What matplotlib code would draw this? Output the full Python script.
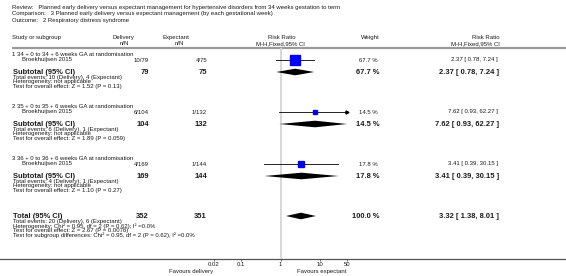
import numpy as np
import matplotlib
matplotlib.use("Agg")
import matplotlib.pyplot as plt

plt.rcParams['font.family'] = ['Liberation Sans', 'DejaVu Sans']

review = "Planned early delivery versus expectant management for hypertensive disorders from 34 weeks gestation to term"
comparison = "3 Planned early delivery versus expectant management (by each gestational week)"
outcome = "2 Respiratory distress syndrome"

groups = ["1 34 + 0 to 34 + 6 weeks GA at randomisation",
          "2 35 + 0 to 35 + 6 weeks GA at randomisation",
          "3 36 + 0 to 36 + 6 weeks GA at randomisation"]
studies = ["Broekhuijsen 2015", "Broekhuijsen 2015", "Broekhuijsen 2015"]
deliv_events = [10, 6, 4]
deliv_n = [79, 104, 169]
expect_events = [4, 1, 1]
expect_n = [75, 132, 144]
weights = [67.7, 14.5, 17.8]
rr = [2.37, 7.62, 3.41]
rr_lo = [0.78, 0.93, 0.39]
rr_hi = [7.24, 62.27, 30.15]
sub_notes = [
    ["Total events: 10 (Delivery), 4 (Expectant)", "Heterogeneity: not applicable",
     "Test for overall effect: Z = 1.52 (P = 0.13)"],
    ["Total events: 6 (Delivery), 1 (Expectant)", "Heterogeneity: not applicable",
     "Test for overall effect: Z = 1.89 (P = 0.059)"],
    ["Total events: 4 (Delivery), 1 (Expectant)", "Heterogeneity: not applicable",
     "Test for overall effect: Z = 1.10 (P = 0.27)"],
]
total_n = [352, 351]
total_rr = [3.32, 1.38, 8.01]
total_notes = ["Total events: 20 (Delivery), 6 (Expectant)",
               "Heterogeneity: Chi\u00b2 = 0.95, df = 2 (P = 0.62); I\u00b2 =0.0%",
               "Test for overall effect: Z = 2.67 (P = 0.0076)",
               "Test for subgroup differences: Chi\u00b2 = 0.95, df = 2 (P = 0.62), I\u00b2 =0.0%"]
ticks = [0.02, 0.1, 1, 10, 50]
tick_labels = ["0.02", "0.1", "1", "10", "50"]

W, H = 566, 276
fig = plt.figure(figsize=(W / 100, H / 100), dpi=100)
bg = fig.add_axes([0, 0, 1, 1])
bg.set_xlim(0, W)
bg.set_ylim(H, 0)
bg.axis('off')

fs = 4.3
fb = 5.4
col = '#1a1a1a'


def t(x, y, s, ha='left', bold=False, size=None):
    bg.text(x, y, s, ha=ha, va='center', fontsize=size or (fb if bold else fs),
            fontweight='bold' if bold else 'normal', color=col)


# header
t(12, 7.5, "Review:   " + review)
t(12, 14, "Comparison:   " + comparison)
t(12, 20.5, "Outcome:   " + outcome)
t(12, 37.5, "Study or subgroup")
t(123, 37.5, "Delivery", ha='center')
t(124, 43.5, "n/N", ha='center')
t(176, 37.5, "Expectant", ha='center')
t(179, 43.5, "n/N", ha='center')
t(282, 37.5, "Risk Ratio", ha='center')
t(280, 43.5, "M-H,Fixed,95% CI", ha='center')
t(380, 37.5, "Weight", ha='right')
t(500, 37.5, "Risk Ratio", ha='right')
t(500, 43.5, "M-H,Fixed,95% CI", ha='right')
bg.plot([12, W], [48, 48], color='#9a9a9a', lw=1.6, solid_capstyle='butt')
bg.plot([0, W], [259, 259], color='#555555', lw=0.9)

# forest axes: x from 214 to 347 px, y from 48 to 259 px
x0, x1, y0, y1 = 214, 347, 48, 259
ax = fig.add_axes([x0 / W, (H - y1) / H, (x1 - x0) / W, (y1 - y0) / H])
ax.set_xscale('log')
ax.set_xlim(0.02, 50)
ax.set_ylim(y1, y0)
ax.patch.set_alpha(0)
for s in ax.spines.values():
    s.set_visible(False)
ax.set_yticks([])
ax.set_xticks(ticks)
ax.set_xticklabels(tick_labels, fontsize=fs, color=col)
ax.minorticks_off()
ax.tick_params(axis='x', length=1.6, width=0.5, pad=0.4, color='#333333')
ax.axvline(1, color='#d4d4d4', lw=1.3, zorder=0)

step = 52
h0 = 54.5
lo_lim, hi_lim = ax.get_xlim()
for i in range(3):
    h = h0 + i * step
    ys = h + 5.5
    ysub = h + 17.5
    t(12, h, groups[i])
    t(22, ys, studies[i])
    t(149, ys, f"{deliv_events[i]}/{deliv_n[i]}", ha='right')
    t(207, ys, f"{expect_events[i]}/{expect_n[i]}", ha='right')
    t(378, ys, f"{weights[i]:.1f} %", ha='right')
    t(498, ys, f"{rr[i]:.2f} [ {rr_lo[i]:.2f}, {rr_hi[i]:.2f} ]", ha='right')
    # CI line, arrow if clipped
    hi = min(rr_hi[i], hi_lim)
    ax.plot([rr_lo[i], hi], [ys, ys], color='black', lw=0.6, zorder=2)
    if rr_hi[i] > hi_lim:
        ax.plot([hi_lim], [ys], marker='>', color='black', ms=2.2, zorder=3, clip_on=False)
    side = 10.0 * np.sqrt(weights[i] / 67.7)
    ax.plot([rr[i]], [ys], marker='s', ms=side * 0.72, color='#0000ff', mec='#0000ff', zorder=3)
    ax.plot([rr[i], rr[i]], [ys - 0.8, ys + 0.8], color='black', lw=0.4, zorder=4)
    # subtotal
    t(13, ysub, "Subtotal (95% CI)", bold=True)
    t(149, ysub, f"{deliv_n[i]}", ha='right', bold=True)
    t(207, ysub, f"{expect_n[i]}", ha='right', bold=True)
    t(380, ysub, f"{weights[i]:.1f} %", ha='right', bold=True)
    t(499, ysub, f"{rr[i]:.2f} [ {rr_lo[i]:.2f}, {rr_hi[i]:.2f} ]", ha='right', bold=True)
    dx = [rr_lo[i], rr[i], min(rr_hi[i], hi_lim), rr[i]]
    dy = [ysub, ysub - 3.3, ysub, ysub + 3.3]
    ax.fill(dx, dy, color='black', lw=0, zorder=3)
    for k, note in enumerate(sub_notes[i]):
        t(13, ysub + 5.2 + k * 4.8, note)

# total
yt = 216
t(13, yt, "Total (95% CI)", bold=True)
t(149, yt, f"{total_n[0]}", ha='right', bold=True)
t(207, yt, f"{total_n[1]}", ha='right', bold=True)
t(380, yt, "100.0 %", ha='right', bold=True)
t(499, yt, f"{total_rr[0]:.2f} [ {total_rr[1]:.2f}, {total_rr[2]:.2f} ]", ha='right', bold=True)
ax.fill([total_rr[1], total_rr[0], total_rr[2], total_rr[0]],
        [yt, yt - 3.3, yt, yt + 3.3], color='black', lw=0, zorder=3)
for k, note in enumerate(total_notes):
    t(13, yt + 5.2 + k * 4.8, note)

t(213, 271, "Favours delivery", ha='right')
t(297, 271, "Favours expectant", ha='left')

fig.savefig("out.png", dpi=100)
